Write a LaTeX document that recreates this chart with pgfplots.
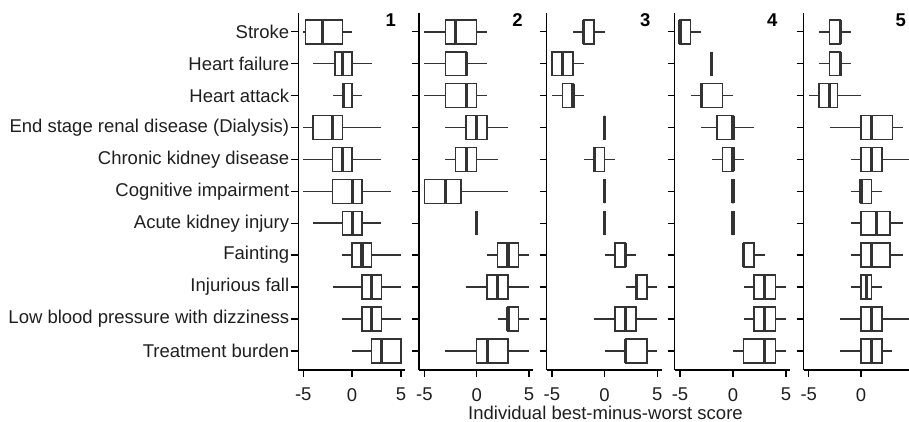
\documentclass[border=0pt]{standalone}
\usepackage{pgfplots}
\pgfplotsset{compat=1.18}
\usepgfplotslibrary{statistics}
\usepackage{fontspec}
\setmainfont{Liberation Sans}
\definecolor{boxc}{HTML}{333333}
\tikzset{pnum/.style={font=\bfseries\fontsize{18.5}{22}\selectfont}}
\pgfplotsset{
  every non boxed x axis/.style={},
  every non boxed y axis/.style={},
  panel/.style={
    scale only axis, height=357.3pt, anchor=south west,
    xmin=-5.5, xmax=5.4, ymin=0.4, ymax=11.6, enlargelimits=false,
    axis x line=bottom, axis y line=left,
    axis line style={line width=1.4pt, black},
    xtick={-5,0,5}, xticklabels={-5,0,5},
    ytick={1,2,3,4,5,6,7,8,9,10,11},
    tick align=outside, major tick length=7pt,
    tick style={line width=1.3pt, black},
    ticklabel style={font=\fontsize{18.5}{22}\selectfont, text=black!88},
    xticklabel style={yshift=-8pt, inner sep=3pt},
    clip=false,
  },
  bp/.style={draw=boxc, fill=white, line width=1.5pt,
    boxplot/draw direction=x, boxplot/box extend=0.75,
    boxplot/whisker extend=0},
  boxplot/every median/.style={line width=3.2pt},
}
\begin{document}
\begin{tikzpicture}
% ---------- Panel 1 ----------
\begin{axis}[panel, at={(298.4pt,52pt)}, width=106.5pt,
  yticklabels={Treatment burden,Low blood pressure with dizziness,Injurious fall,Fainting,Acute kidney injury,Cognitive impairment,Chronic kidney disease,End stage renal disease (Dialysis),Heart attack,Heart failure,Stroke},
  yticklabel style={inner sep=2pt}]
\addplot[bp, boxplot prepared={draw position=11, lower whisker=-5, lower quartile=-4.75, median=-3, upper quartile=-1, upper whisker=0}] coordinates {};
\addplot[bp, boxplot prepared={draw position=10, lower whisker=-4, lower quartile=-1.75, median=-1, upper quartile=0, upper whisker=2}] coordinates {};
\addplot[bp, boxplot prepared={draw position=9, lower whisker=-2, lower quartile=-1, median=-0.85, upper quartile=0, upper whisker=1}] coordinates {};
\addplot[bp, boxplot prepared={draw position=8, lower whisker=-5, lower quartile=-4, median=-2, upper quartile=-1, upper whisker=3}] coordinates {};
\addplot[bp, boxplot prepared={draw position=7, lower whisker=-5, lower quartile=-2, median=-1, upper quartile=0, upper whisker=3}] coordinates {};
\addplot[bp, boxplot prepared={draw position=6, lower whisker=-5, lower quartile=-2, median=0, upper quartile=1, upper whisker=4}] coordinates {};
\addplot[bp, boxplot prepared={draw position=5, lower whisker=-4, lower quartile=-1, median=0, upper quartile=1, upper whisker=3}] coordinates {};
\addplot[bp, boxplot prepared={draw position=4, lower whisker=-1, lower quartile=0, median=1, upper quartile=2, upper whisker=5}] coordinates {};
\addplot[bp, boxplot prepared={draw position=3, lower whisker=-2, lower quartile=1, median=2, upper quartile=3, upper whisker=5}] coordinates {};
\addplot[bp, boxplot prepared={draw position=2, lower whisker=-1, lower quartile=1, median=2, upper quartile=3, upper whisker=5}] coordinates {};
\addplot[bp, boxplot prepared={draw position=1, lower whisker=0, lower quartile=2, median=3, upper quartile=5, upper whisker=5}] coordinates {};
\node[pnum] at (axis cs:3.95,11.37) {1};
\end{axis}
% ---------- Panel 2 ----------
\begin{axis}[panel, at={(419.1pt,52pt)}, width=114.1pt, yticklabels={}]
\addplot[bp, boxplot prepared={draw position=11, lower whisker=-5, lower quartile=-3, median=-2, upper quartile=0, upper whisker=1}] coordinates {};
\addplot[bp, boxplot prepared={draw position=10, lower whisker=-5, lower quartile=-3, median=-1, upper quartile=-1, upper whisker=1}] coordinates {};
\addplot[bp, boxplot prepared={draw position=9, lower whisker=-5, lower quartile=-3, median=-1, upper quartile=0, upper whisker=1}] coordinates {};
\addplot[bp, boxplot prepared={draw position=8, lower whisker=-3, lower quartile=-1, median=0, upper quartile=1, upper whisker=3}] coordinates {};
\addplot[bp, boxplot prepared={draw position=7, lower whisker=-3, lower quartile=-2, median=-1, upper quartile=0, upper whisker=2}] coordinates {};
\addplot[bp, boxplot prepared={draw position=6, lower whisker=-5, lower quartile=-5, median=-3, upper quartile=-1.5, upper whisker=3}] coordinates {};
\addplot[bp, boxplot prepared={draw position=5, lower whisker=0, lower quartile=0, median=0, upper quartile=0, upper whisker=0}] coordinates {};
\addplot[bp, boxplot prepared={draw position=4, lower whisker=1, lower quartile=2, median=3, upper quartile=4, upper whisker=5}] coordinates {};
\addplot[bp, boxplot prepared={draw position=3, lower whisker=-1, lower quartile=1, median=2, upper quartile=3, upper whisker=5}] coordinates {};
\addplot[bp, boxplot prepared={draw position=2, lower whisker=2, lower quartile=3, median=3, upper quartile=4, upper whisker=5}] coordinates {};
\addplot[bp, boxplot prepared={draw position=1, lower whisker=-3, lower quartile=0, median=1, upper quartile=3, upper whisker=5}] coordinates {};
\node[pnum] at (axis cs:3.9,11.37) {2};
\end{axis}
% ---------- Panel 3 ----------
\begin{axis}[panel, at={(546.7pt,52pt)}, width=114.8pt, yticklabels={}]
\addplot[bp, boxplot prepared={draw position=11, lower whisker=-3, lower quartile=-2, median=-2, upper quartile=-1, upper whisker=0}] coordinates {};
\addplot[bp, boxplot prepared={draw position=10, lower whisker=-5, lower quartile=-5, median=-4, upper quartile=-3, upper whisker=-2}] coordinates {};
\addplot[bp, boxplot prepared={draw position=9, lower whisker=-5, lower quartile=-4, median=-3, upper quartile=-3, upper whisker=-2}] coordinates {};
\addplot[bp, boxplot prepared={draw position=8, lower whisker=0, lower quartile=0, median=0, upper quartile=0, upper whisker=0}] coordinates {};
\addplot[bp, boxplot prepared={draw position=7, lower whisker=-2, lower quartile=-1, median=-1, upper quartile=0, upper whisker=1}] coordinates {};
\addplot[bp, boxplot prepared={draw position=6, lower whisker=0, lower quartile=0, median=0, upper quartile=0, upper whisker=0}] coordinates {};
\addplot[bp, boxplot prepared={draw position=5, lower whisker=0, lower quartile=0, median=0, upper quartile=0, upper whisker=0}] coordinates {};
\addplot[bp, boxplot prepared={draw position=4, lower whisker=0, lower quartile=1, median=2, upper quartile=2, upper whisker=3}] coordinates {};
\addplot[bp, boxplot prepared={draw position=3, lower whisker=2, lower quartile=3, median=3, upper quartile=4, upper whisker=5}] coordinates {};
\addplot[bp, boxplot prepared={draw position=2, lower whisker=-1, lower quartile=1, median=2, upper quartile=3, upper whisker=5}] coordinates {};
\addplot[bp, boxplot prepared={draw position=1, lower whisker=0, lower quartile=2, median=2, upper quartile=4, upper whisker=5}] coordinates {};
\node[pnum] at (axis cs:3.87,11.37) {3};
\end{axis}
% ---------- Panel 4 ----------
\begin{axis}[panel, at={(674.7pt,52pt)}, width=115.5pt, yticklabels={}]
\addplot[bp, boxplot prepared={draw position=11, lower whisker=-5, lower quartile=-5, median=-5, upper quartile=-4, upper whisker=-3}] coordinates {};
\addplot[bp, boxplot prepared={draw position=10, lower whisker=-2, lower quartile=-2, median=-2, upper quartile=-2, upper whisker=-2}] coordinates {};
\addplot[bp, boxplot prepared={draw position=9, lower whisker=-4, lower quartile=-3, median=-3, upper quartile=-1, upper whisker=0}] coordinates {};
\addplot[bp, boxplot prepared={draw position=8, lower whisker=-3, lower quartile=-1.5, median=0, upper quartile=0, upper whisker=2}] coordinates {};
\addplot[bp, boxplot prepared={draw position=7, lower whisker=-2, lower quartile=-1, median=0, upper quartile=0, upper whisker=1}] coordinates {};
\addplot[bp, boxplot prepared={draw position=6, lower whisker=0, lower quartile=0, median=0, upper quartile=0, upper whisker=0}] coordinates {};
\addplot[bp, boxplot prepared={draw position=5, lower whisker=0, lower quartile=0, median=0, upper quartile=0, upper whisker=0}] coordinates {};
\addplot[bp, boxplot prepared={draw position=4, lower whisker=1, lower quartile=1, median=1, upper quartile=2, upper whisker=3}] coordinates {};
\addplot[bp, boxplot prepared={draw position=3, lower whisker=1, lower quartile=2, median=3, upper quartile=4, upper whisker=5}] coordinates {};
\addplot[bp, boxplot prepared={draw position=2, lower whisker=1, lower quartile=2, median=3, upper quartile=4, upper whisker=5}] coordinates {};
\addplot[bp, boxplot prepared={draw position=1, lower whisker=0, lower quartile=1, median=3, upper quartile=4, upper whisker=5}] coordinates {};
\node[pnum] at (axis cs:3.7,11.37) {4};
\end{axis}
% ---------- Panel 5 ----------
\begin{axis}[panel, at={(803.5pt,52pt)}, width=114pt, yticklabels={}, xticklabels={-5,0,{}}]
\addplot[bp, boxplot prepared={draw position=11, lower whisker=-4, lower quartile=-3, median=-2, upper quartile=-2, upper whisker=-1}] coordinates {};
\addplot[bp, boxplot prepared={draw position=10, lower whisker=-4, lower quartile=-3, median=-2, upper quartile=-2, upper whisker=-1}] coordinates {};
\addplot[bp, boxplot prepared={draw position=9, lower whisker=-5, lower quartile=-4, median=-3, upper quartile=-2.25, upper whisker=0}] coordinates {};
\addplot[bp, boxplot prepared={draw position=8, lower whisker=-3, lower quartile=0, median=1, upper quartile=3, upper whisker=4}] coordinates {};
\addplot[bp, boxplot prepared={draw position=7, lower whisker=-1, lower quartile=0, median=1, upper quartile=2, upper whisker=5}] coordinates {};
\addplot[bp, boxplot prepared={draw position=6, lower whisker=-1, lower quartile=0, median=0, upper quartile=1, upper whisker=2}] coordinates {};
\addplot[bp, boxplot prepared={draw position=5, lower whisker=-1, lower quartile=0, median=1.5, upper quartile=2.75, upper whisker=4}] coordinates {};
\addplot[bp, boxplot prepared={draw position=4, lower whisker=-1, lower quartile=0, median=1, upper quartile=2.75, upper whisker=4}] coordinates {};
\addplot[bp, boxplot prepared={draw position=3, lower whisker=-1, lower quartile=0, median=0.5, upper quartile=1, upper whisker=2}] coordinates {};
\addplot[bp, boxplot prepared={draw position=2, lower whisker=-2, lower quartile=0, median=1, upper quartile=2, upper whisker=5}] coordinates {};
\addplot[bp, boxplot prepared={draw position=1, lower whisker=-2, lower quartile=0, median=1, upper quartile=2, upper whisker=3}] coordinates {};
\node[pnum] at (axis cs:3.8,11.37) {5};
\end{axis}
\node[font=\fontsize{18.5}{22}\selectfont, text=black!88, inner sep=0pt, anchor=base] at (605.5pt,2.5pt) {Individual best-minus-worst score};
\pgfresetboundingbox
\useasboundingbox (0pt,0pt) rectangle (909pt,422pt);
\end{tikzpicture}
\end{document}
